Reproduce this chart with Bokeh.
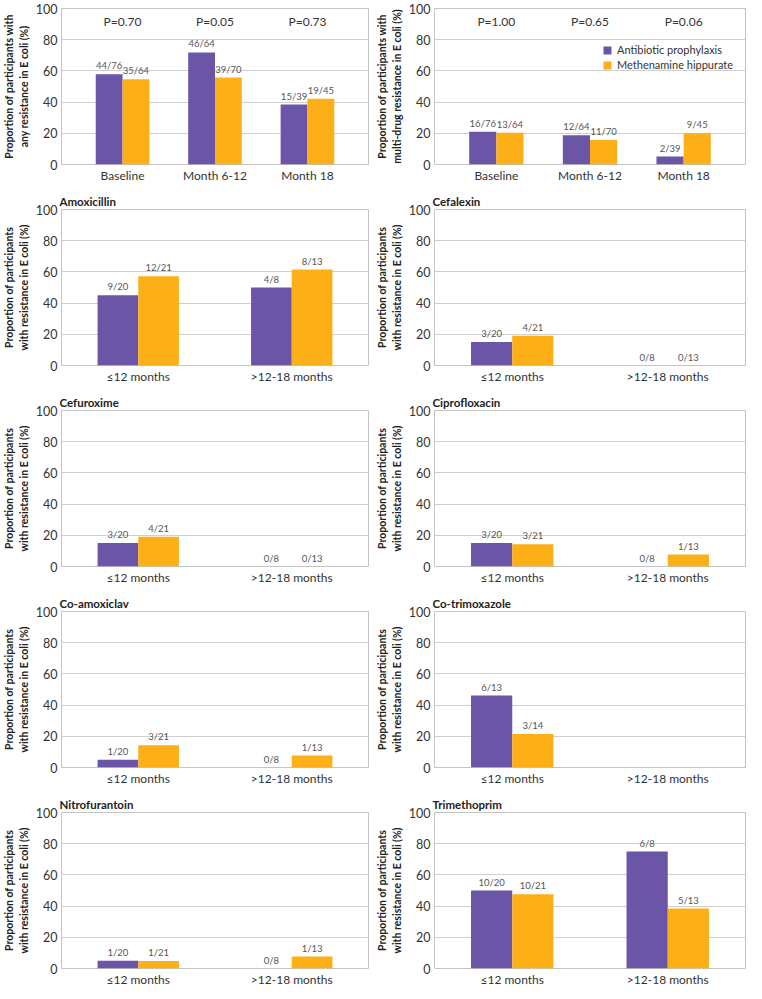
from bokeh.plotting import figure
from bokeh.models import ColumnDataSource, FactorRange, Range1d, FixedTicker, Legend, LegendItem
from bokeh.transform import dodge
from bokeh.layouts import gridplot
from bokeh.embed import file_html
from bokeh.resources import INLINE
from bokeh.core.properties import value

PURPLE = "#6a55a6"
ORANGE = "#fcaf17"
FONT = "Lato"
TXT = "#333333"

groups = ["Antibiotic prophylaxis", "Methenamine hippurate"]

# ---- summary panels ----
time_cats = ["Baseline", "Month 6-12", "Month 18"]
any_ap_n = [44, 46, 15]
any_ap_d = [76, 64, 39]
any_mh_n = [35, 39, 19]
any_mh_d = [64, 70, 45]
any_p = ["P=0.70", "P=0.05", "P=0.73"]

mdr_ap_n = [16, 12, 2]
mdr_ap_d = [76, 64, 39]
mdr_mh_n = [13, 11, 9]
mdr_mh_d = [64, 70, 45]
mdr_p = ["P=1.00", "P=0.65", "P=0.06"]

# ---- per-antibiotic panels ----
period_cats = ["≤12 months", ">12-18 months"]

amox_ap_n = [9, 4];   amox_ap_d = [20, 8]
amox_mh_n = [12, 8];  amox_mh_d = [21, 13]

cefa_ap_n = [3, 0];   cefa_ap_d = [20, 8]
cefa_mh_n = [4, 0];   cefa_mh_d = [21, 13]

cefu_ap_n = [3, 0];   cefu_ap_d = [20, 8]
cefu_mh_n = [4, 0];   cefu_mh_d = [21, 13]

cipr_ap_n = [3, 0];   cipr_ap_d = [20, 8]
cipr_mh_n = [3, 1];   cipr_mh_d = [21, 13]

coam_ap_n = [1, 0];   coam_ap_d = [20, 8]
coam_mh_n = [3, 1];   coam_mh_d = [21, 13]

cotr_ap_n = [6, None];  cotr_ap_d = [13, None]
cotr_mh_n = [3, None];  cotr_mh_d = [14, None]

nitr_ap_n = [1, 0];   nitr_ap_d = [20, 8]
nitr_mh_n = [1, 1];   nitr_mh_d = [21, 13]

trim_ap_n = [10, 6];  trim_ap_d = [20, 8]
trim_mh_n = [10, 5];  trim_mh_d = [21, 13]

y_ticks = [0, 20, 40, 60, 80, 100]

YL_ANY = "Proportion of participants with\nany resistance in E coli (%)"
YL_MDR = "Proportion of participants with\nmulti-drug resistance in E coli (%)"
YL_RES = "Proportion of participants\nwith resistance in E coli (%)"

FIG_W = 373
FH = 156


def make_src(cats, ns, ds):
    c, v, l = [], [], []
    for cat, n, d in zip(cats, ns, ds):
        if n is None:
            continue
        c.append(cat)
        v.append(100.0 * n / d)
        l.append(f"{n}/{d}")
    return ColumnDataSource(dict(cat=c, val=v, lab=l))


def make_panel(cats, ap_n, ap_d, mh_n, mh_d, ylabel, title=None, pvals=None,
               legend=False, bar_w=0.265, pad=0.0, top=0, bottom=27, right=5):
    p = figure(x_range=FactorRange(factors=cats, range_padding=pad, range_padding_units="percent"),
               y_range=Range1d(0, 100), width=FIG_W, frame_height=FH,
               output_backend="svg", toolbar_location=None,
               min_border_left=0, min_border_right=right,
               min_border_top=top, min_border_bottom=bottom)
    if title:
        p.title.text = title
        p.title.text_font = FONT
        p.title.text_font_size = "11.5px"
        p.title.text_font_style = "bold"
        p.title.text_color = "#222222"
        p.title.standoff = 3
        p.title.offset = -2
    p.background_fill_color = "white"
    p.border_fill_color = "white"
    p.outline_line_color = "#c4c4c4"
    p.outline_line_width = 1

    src_ap = make_src(cats, ap_n, ap_d)
    src_mh = make_src(cats, mh_n, mh_d)
    r1 = p.vbar(x=dodge("cat", -bar_w / 2, range=p.x_range), top="val", width=bar_w,
                source=src_ap, fill_color=PURPLE, line_color=None)
    r2 = p.vbar(x=dodge("cat", bar_w / 2, range=p.x_range), top="val", width=bar_w,
                source=src_mh, fill_color=ORANGE, line_color=None)
    for src, off in ((src_ap, -bar_w / 2), (src_mh, bar_w / 2)):
        p.text(x=dodge("cat", off, range=p.x_range), y="val", text="lab", source=src,
               text_align="center", text_baseline="bottom", y_offset=-3,
               text_font=value(FONT), text_font_size="9.5px", text_color="#555555")

    if pvals:
        psrc = ColumnDataSource(dict(cat=cats, y=[100] * len(cats), lab=pvals))
        p.text(x="cat", y="y", text="lab", source=psrc, text_align="center",
               text_baseline="top", y_offset=5, text_font=value(FONT),
               text_font_size="12px", text_color=TXT)

    if legend:
        lg = Legend(items=[LegendItem(label=groups[0], renderers=[r1]),
                           LegendItem(label=groups[1], renderers=[r2])],
                    location=(168, FH - 35 - 28), orientation="vertical",
                    background_fill_alpha=0, border_line_color=None,
                    glyph_width=10, glyph_height=10, label_height=13,
                    label_standoff=5, spacing=2, padding=0, margin=0,
                    label_text_font=FONT, label_text_font_size="11px",
                    label_text_color=TXT)
        p.add_layout(lg)

    p.xgrid.grid_line_color = None
    p.ygrid.grid_line_color = "#cfcfcf"
    p.ygrid.grid_line_width = 1
    p.yaxis.ticker = FixedTicker(ticks=y_ticks)
    for ax in (p.xaxis, p.yaxis):
        ax.axis_line_color = None
        ax.major_tick_line_color = None
        ax.minor_tick_line_color = None
        ax.major_tick_out = 0
        ax.major_tick_in = 0
        ax.minor_tick_out = 0
        ax.minor_tick_in = 0
        ax.major_label_text_font = FONT
        ax.major_label_text_color = TXT
    p.xaxis.major_label_text_font_size = "12px"
    p.xaxis.major_label_standoff = 3
    p.yaxis.major_label_text_font_size = "12.5px"
    p.yaxis.major_label_standoff = 4
    p.yaxis.axis_label = ylabel
    p.yaxis.axis_label_text_font = FONT
    p.yaxis.axis_label_text_font_size = "10.5px"
    p.yaxis.axis_label_text_font_style = "bold"
    p.yaxis.axis_label_text_color = "#222222"
    p.yaxis.axis_label_standoff = 3
    return p


p_any = make_panel(time_cats, any_ap_n, any_ap_d, any_mh_n, any_mh_d, YL_ANY,
                   pvals=any_p, bar_w=0.29, pad=0.107, top=8, bottom=27, right=5)
p_mdr = make_panel(time_cats, mdr_ap_n, mdr_ap_d, mdr_mh_n, mdr_mh_d, YL_MDR,
                   pvals=mdr_p, legend=True, bar_w=0.29, pad=0.107, top=8, bottom=27, right=1)

rows_spec = [
    (("Amoxicillin", amox_ap_n, amox_ap_d, amox_mh_n, amox_mh_d),
     ("Cefalexin", cefa_ap_n, cefa_ap_d, cefa_mh_n, cefa_mh_d)),
    (("Cefuroxime", cefu_ap_n, cefu_ap_d, cefu_mh_n, cefu_mh_d),
     ("Ciprofloxacin", cipr_ap_n, cipr_ap_d, cipr_mh_n, cipr_mh_d)),
    (("Co-amoxiclav", coam_ap_n, coam_ap_d, coam_mh_n, coam_mh_d),
     ("Co-trimoxazole", cotr_ap_n, cotr_ap_d, cotr_mh_n, cotr_mh_d)),
    (("Nitrofurantoin", nitr_ap_n, nitr_ap_d, nitr_mh_n, nitr_mh_d),
     ("Trimethoprim", trim_ap_n, trim_ap_d, trim_mh_n, trim_mh_d)),
]

grid = [[p_any, p_mdr]]
for i, (lspec, rspec) in enumerate(rows_spec):
    bot = 20 if i == len(rows_spec) - 1 else 27
    pl = make_panel(period_cats, *lspec[1:], YL_RES, title=lspec[0], bottom=bot, right=5)
    pr = make_panel(period_cats, *rspec[1:], YL_RES, title=rspec[0], bottom=bot, right=1)
    grid.append([pl, pr])

layout = gridplot(grid, toolbar_location=None)

open("out.html", "w").write(file_html(layout, INLINE))
